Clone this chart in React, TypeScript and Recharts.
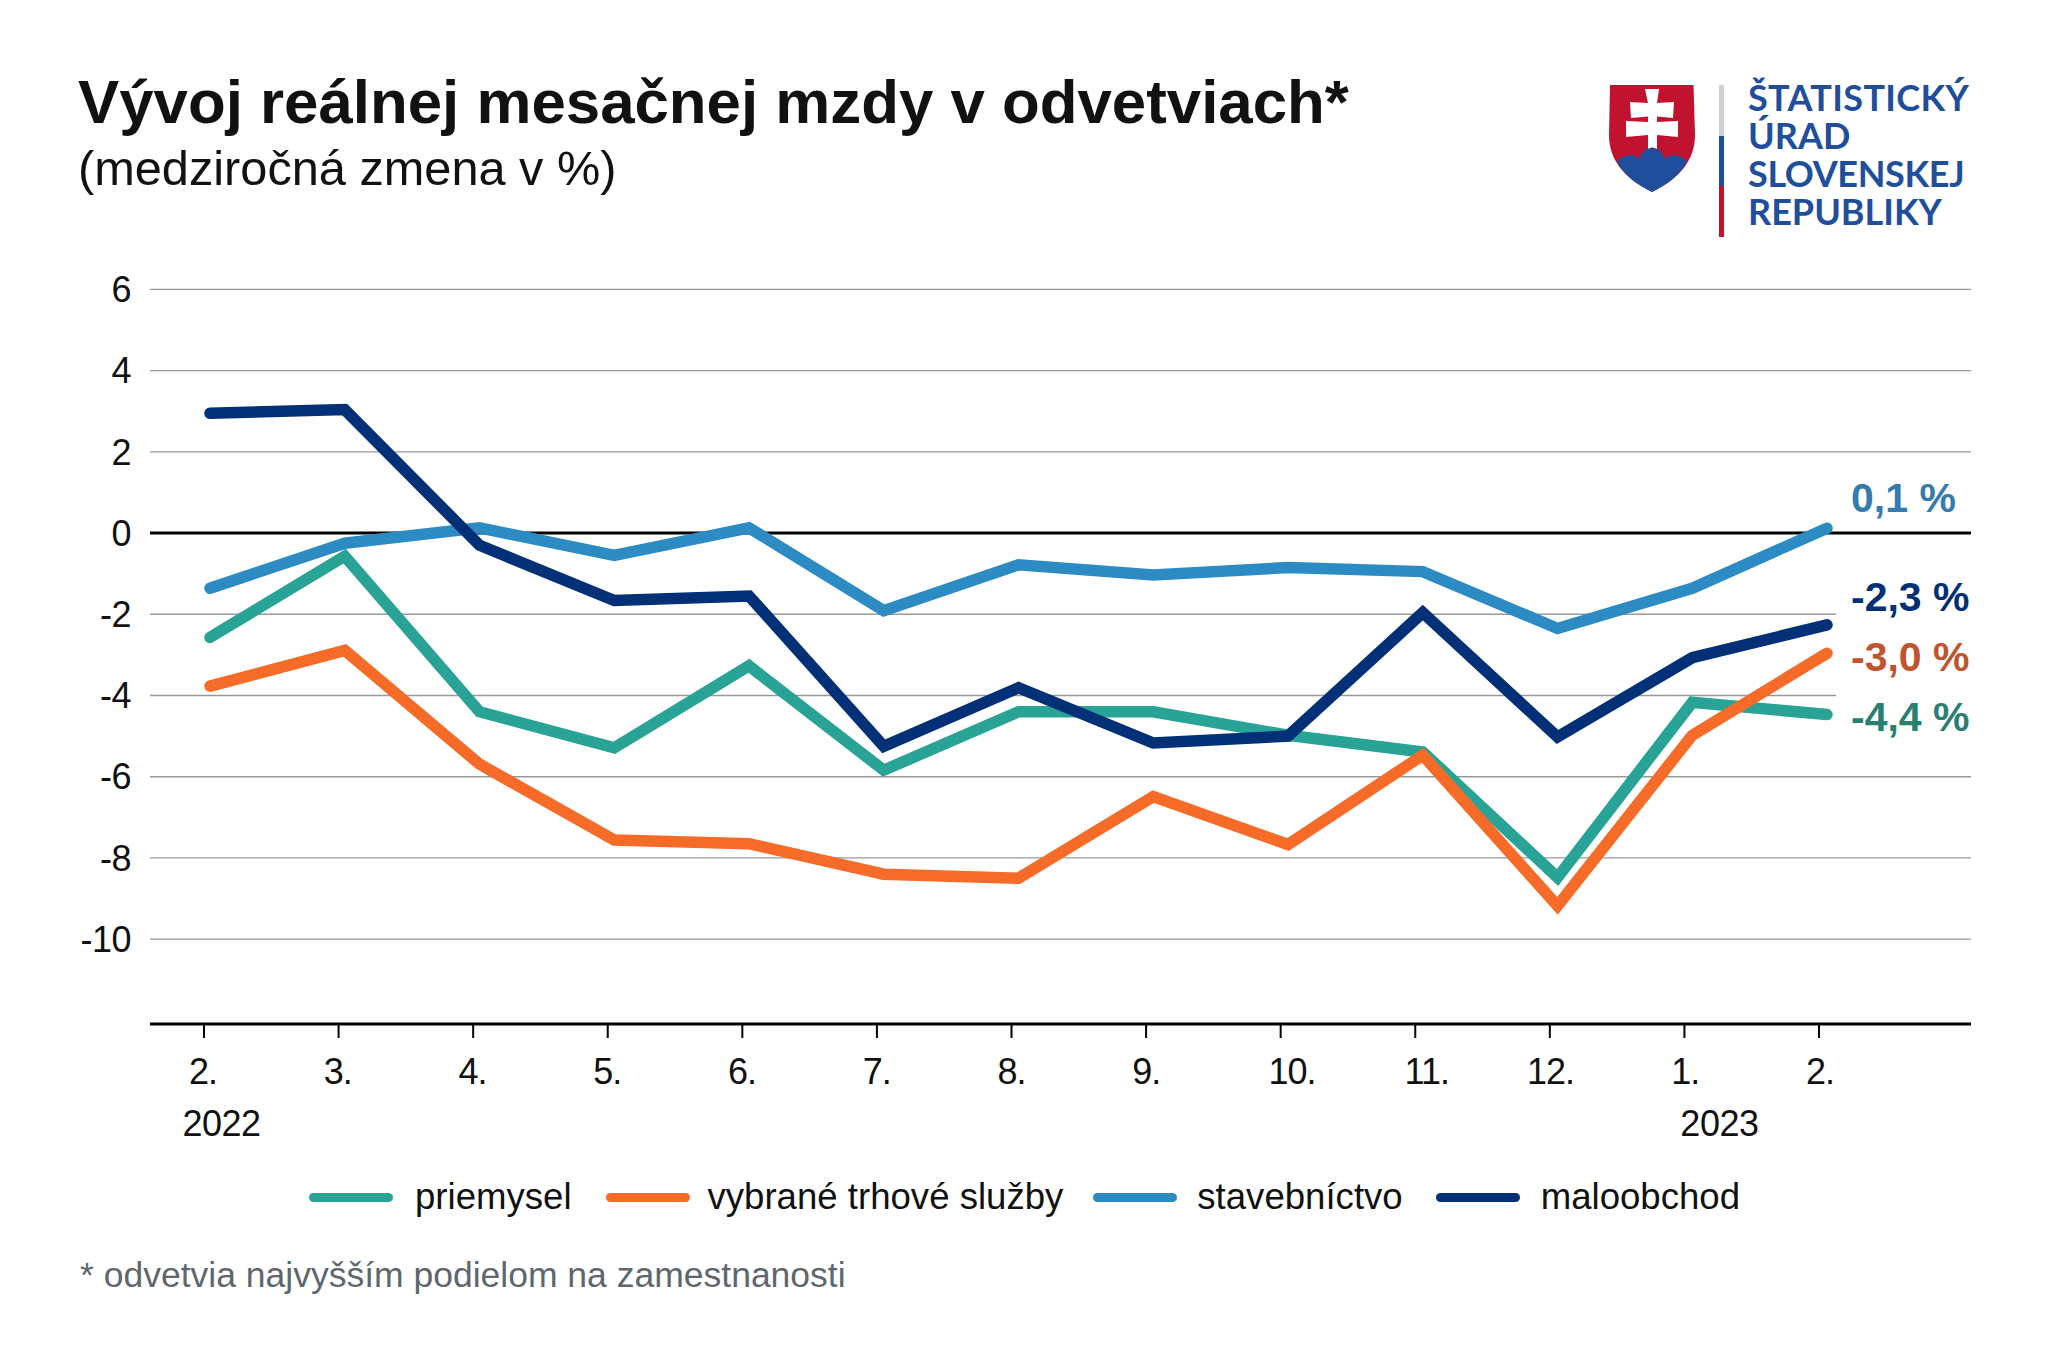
import React from "react";
import { LineChart, Line, XAxis, YAxis, CartesianGrid, ReferenceLine, Legend } from "recharts";

const periods = ["2022-02","2022-03","2022-04","2022-05","2022-06","2022-07","2022-08","2022-09","2022-10","2022-11","2022-12","2023-01","2023-02"];
const monthLabels = ["2.","3.","4.","5.","6.","7.","8.","9.","10.","11.","12.","1.","2."];
const yearLabels: Record<number, string> = { 0: "2022", 11: "2023" };
const yTicks = [-10,-8,-6,-4,-2,0,2,4,6];
const seriesNames = ["priemysel", "vybrané trhové služby", "stavebníctvo", "maloobchod"];

const priemysel = [-2.57,-0.57,-4.40,-5.29,-3.27,-5.84,-4.40,-4.40,-4.98,-5.39,-8.48,-4.17,-4.47];
const sluzby = [-3.77,-2.89,-5.69,-7.56,-7.65,-8.40,-8.50,-6.49,-7.67,-5.47,-9.18,-4.98,-2.96];
const stavebnictvo = [-1.36,-0.25,0.13,-0.55,0.13,-1.91,-0.78,-1.03,-0.85,-0.95,-2.35,-1.36,0.12];
const maloobchod = [2.95,3.04,-0.30,-1.66,-1.55,-5.25,-3.81,-5.17,-5.00,-1.96,-5.02,-3.07,-2.26];

const FONT = "'Liberation Sans', Arial, sans-serif";
const TEAL = "#29a396";
const ORANGE = "#f56b27";
const BLUE = "#2d8bc4";
const NAVY = "#013076";
const LINE_W = 11.5;

const data = periods.map((p, i) => ({
  period: p,
  priemysel: priemysel[i],
  sluzby: sluzby[i],
  stavebnictvo: stavebnictvo[i],
  maloobchod: maloobchod[i],
}));

const last = periods.length - 1;

function XTick(props: any) {
  const { x, y, index } = props;
  const i = index as number;
  const tx = x - 6 - i / 6;
  const lx = i === 8 || i === 9 ? x + 4 : x - 7;
  return (
    <g>
      <line x1={tx} x2={tx} y1={y} y2={y + 14} stroke="#000" strokeWidth={2} />
      <text x={lx} y={y + 60} textAnchor="middle" fontSize={36} fontFamily={FONT} fill="#111" letterSpacing={-1}>{monthLabels[i]}</text>
      {yearLabels[i] ? (
        <text x={tx + (i === 0 ? 17.5 : 35)} y={y + 112} textAnchor="middle" fontSize={36} fontFamily={FONT} fill="#111" letterSpacing={-0.5}>{yearLabels[i]}</text>
      ) : null}
    </g>
  );
}

function endLabel(text: string, color: string, dy: number, mask: boolean) {
  return (p: any) => {
    if (p.index !== last) return <g key={p.index} />;
    const baseline = p.y + dy;
    return (
      <g key={p.index}>
        {mask ? <rect x={p.x + 9} y={baseline - 44} width={146} height={60} fill="#fff" /> : null}
        <text x={p.x + 24} y={baseline} fontSize={41} fontWeight={700} fontFamily={FONT} fill={color}>{text}</text>
      </g>
    );
  };
}

function LegendContent(props: any) {
  const gaps = [34, 30, 33, 0];
  const markerGaps = [22, 18, 20, 21];
  const items = seriesNames.map((n) => (props.payload || []).find((it: any) => it.value === n)).filter(Boolean);
  return (
    <div style={{ display: "flex", alignItems: "center", fontFamily: FONT, fontSize: 36.6, lineHeight: "48px", color: "#111", whiteSpace: "nowrap" }}>
      {items.map((it: any, i: number) => (
        <div key={it.value} style={{ display: "flex", alignItems: "center", marginRight: gaps[i] }}>
          <div style={{ width: 84, height: 9, borderRadius: 4.5, background: it.color, marginRight: markerGaps[i] }} />
          <span>{it.value}</span>
        </div>
      ))}
    </div>
  );
}

function Overlay() {
  const logoLines = ["ŠTATISTICKÝ", "ÚRAD", "SLOVENSKEJ", "REPUBLIKY"];
  const logoBase = [111, 149, 187, 225];
  const logoSpacing = [0.35, 0, -0.35, 0];
  return (
    <svg width={2048} height={1365} style={{ position: "absolute", left: 0, top: 0, pointerEvents: "none" }}>
      <text x={78} y={123} fontSize={61.8} fontWeight={700} fontFamily={FONT} fill="#111">Vývoj reálnej mesačnej mzdy v odvetviach*</text>
      <text x={78} y={185} fontSize={48.7} fontFamily={FONT} fill="#111">(medziročná zmena v %)</text>
      <text x={80} y={1287} fontSize={35.5} fontFamily={FONT} fill="#5e676e">* odvetvia najvyšším podielom na zamestnanosti</text>

      <path d="M1610,85 H1693.5 L1695,135 C1695,160 1680,178 1652,192 C1624,178 1609,160 1609,135 Z" fill="#c1122f" />
      <path d="M1617,162 C1620,156 1634,152 1639,159 C1642,151 1646,148 1652,148 C1658,148 1662,151 1665,159 C1670,152 1684,156 1687,162 C1680,175 1668,184 1652,192 C1636,184 1624,175 1617,162 Z" fill="#1f4e9c" />
      <path d="M1645,89 H1659 L1657,103 L1674,102 L1673,118 L1657,116.5 V122 L1678,121 L1678,137 L1657,135 V149 C1653,147 1651,147 1648,149 V135 L1626,137 L1626,121 L1648,122 V116.5 L1631,118 L1630,102 L1648,103 Z" fill="#fff" />
      <rect x={1719} y={85} width={5} height={51} fill="#cfd1d2" />
      <rect x={1719} y={136} width={5} height={50} fill="#1f4e9c" />
      <rect x={1719} y={186} width={5} height={51} fill="#c1122f" />
      {logoLines.map((t, i) => (
        <text key={t} x={1748} y={logoBase[i]} fontSize={36} fontWeight={700} letterSpacing={logoSpacing[i]} fontFamily="Lato, sans-serif" fill="#1f4e9c">{t}</text>
      ))}
    </svg>
  );
}

export default function App() {
  return (
    <div style={{ position: "absolute", left: 0, top: 0, width: 2048, height: 1365, background: "#fff" }}>
      <LineChart
        width={2048}
        height={1365}
        data={data}
        margin={{ top: 289.4, right: 77, bottom: 221, left: 50 }}
      >
        <CartesianGrid vertical={false} stroke="#999" strokeWidth={1.4} />
        <XAxis
          dataKey="period"
          scale="point"
          padding={{ left: 60, right: 144 }}
          interval={0}
          height={120}
          tickSize={0}
          tickMargin={0}
          tickLine={false}
          axisLine={{ stroke: "#000", strokeWidth: 3 }}
          tick={<XTick />}
        />
        <YAxis
          width={100}
          domain={[-12.09, 6]}
          ticks={yTicks}
          allowDataOverflow
          interval={0}
          tickSize={0}
          tickMargin={19}
          axisLine={false}
          tickLine={false}
          tick={{ fontSize: 36, fontFamily: FONT, fill: "#111", letterSpacing: -0.5 }}
        />
        <ReferenceLine y={0} stroke="#000" strokeWidth={3} />
        <Legend
          verticalAlign="middle"
          content={<LegendContent />}
          wrapperStyle={{ left: 309, top: 1173, width: "auto", margin: 0 }}
        />
        <Line name={seriesNames[0]} dataKey="priemysel" stroke={TEAL} strokeWidth={LINE_W} strokeLinecap="round" strokeLinejoin="miter" dot={false} isAnimationActive={false} label={endLabel("-4,4 %", "#2a8070", 16, true)} />
        <Line name={seriesNames[1]} dataKey="sluzby" stroke={ORANGE} strokeWidth={LINE_W} strokeLinecap="round" strokeLinejoin="miter" dot={false} isAnimationActive={false} label={endLabel("-3,0 %", "#c0542c", 18, true)} />
        <Line name={seriesNames[2]} dataKey="stavebnictvo" stroke={BLUE} strokeWidth={LINE_W} strokeLinecap="round" strokeLinejoin="miter" dot={false} isAnimationActive={false} label={endLabel("0,1 %", "#337cad", -16, false)} />
        <Line name={seriesNames[3]} dataKey="maloobchod" stroke={NAVY} strokeWidth={LINE_W} strokeLinecap="round" strokeLinejoin="miter" dot={false} isAnimationActive={false} label={endLabel("-2,3 %", NAVY, -14, true)} />
      </LineChart>
      <Overlay />
    </div>
  );
}
